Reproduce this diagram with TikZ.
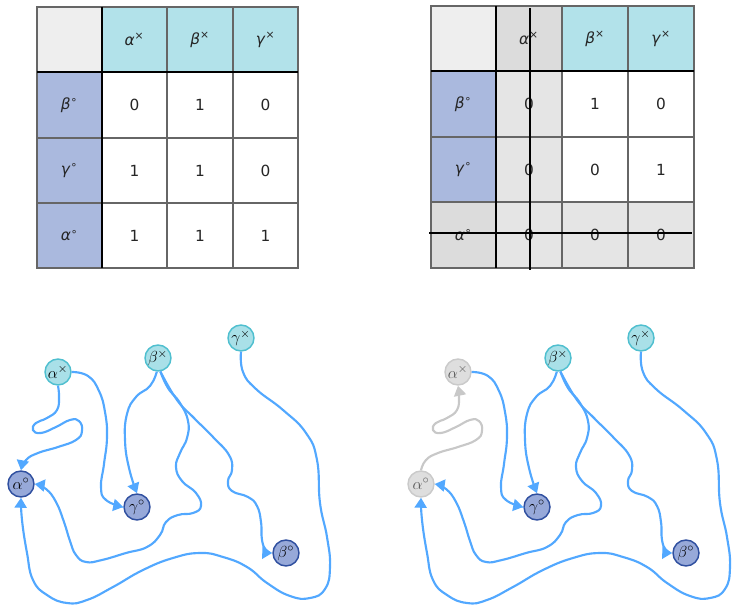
\documentclass[tikz,border=0pt]{standalone}
\usepackage{fontspec}
\setmainfont{DejaVu Sans}
\usetikzlibrary{arrows.meta}
\definecolor{hdrc}{HTML}{B2E2EA}
\definecolor{rowc}{HTML}{AAB9DE}
\definecolor{cornc}{HTML}{EEEEEE}
\definecolor{grayh}{HTML}{DCDCDC}
\definecolor{grayb}{HTML}{E5E5E5}
\definecolor{xfill}{HTML}{A9E0E8}
\definecolor{xbd}{HTML}{4FBFCF}
\definecolor{ofill}{HTML}{97A9D9}
\definecolor{obd}{HTML}{2F4F9F}
\definecolor{gfill}{HTML}{DEDEDE}
\definecolor{gbd}{HTML}{CACACA}
\definecolor{edgec}{HTML}{52A8FF}
\definecolor{gedgec}{HTML}{C8C8C8}
\tikzset{
  cellt/.style={font=\fontsize{11.5}{13}\selectfont, text=black!85, inner sep=0pt},
  gridl/.style={draw=black!60, line width=0.8pt},
  sepl/.style={draw=black, line width=1.4pt},
  strikel/.style={draw=black, line width=1.1pt},
  gnodebase/.style={circle, line width=1.1pt, minimum size=19.5pt, inner sep=0pt, font=\fontsize{13}{13}\selectfont},
  xnode/.style={gnodebase, draw=xbd, fill=xfill},
  onode/.style={gnodebase, draw=obd, fill=ofill},
  grnode/.style={gnodebase, draw=gbd, fill=gfill, text=black!65},
  edge/.style={draw=edgec, line width=1.6pt, -{Triangle[length=7.5pt,width=9pt]}},
  gedge/.style={draw=gedgec, line width=1.6pt, {Triangle[length=7.5pt,width=9pt]}-},
}
\newcommand\mygraph[6]{%
\begin{scope}[shift={(#2,0)}]
\node[#3] (#1ax) at (58,372) {$\alpha^{\times}$};
\node[xnode] (#1bx) at (158,358) {$\beta^{\times}$};
\node[xnode] (#1gx) at (241,338) {$\gamma^{\times}$};
\node[#4] (#1ao) at (21,484) {$\alpha^{\circ}$};
\node[onode] (#1go) at (137,507) {$\gamma^{\circ}$};
\node[onode] (#1bo) at (286,553) {$\beta^{\circ}$};
\draw[#5] plot[smooth, tension=0.8] coordinates {(#1ax.south) (59,397) (57,410) (47,418) (36,423) (33,430) (41,433) (56,427) (70,420) (79,421) (82,431) (76,440) (58,447) (38,453) (26,460) (#1ao.north)};
\draw[edge] plot[smooth, tension=0.8] coordinates {(#1ax.east) (88,376) (99,391) (105,412) (107,437) (104,464) (101,487) (106,500) (#1go.west)};
\draw[edge] plot[smooth, tension=0.8] coordinates {(#1bx.-95) (150,386) (136,397) (127,414) (125,440) (129,468) (#1go.north)};
\draw[edge] plot[smooth, tension=0.8] coordinates {(#1bx.-80) (168,388) (180,403) (188,421) (187,438) (180,453) (176,467) (182,481) (196,493) (201,506) (193,513) (178,515) (166,522) (160,535) (147,547) (126,553) (102,560) (86,562) (76,555) (70,541) (64,522) (56,502) (46,489) (#1ao.east)};
\draw[edge] plot[smooth, tension=0.8] coordinates {(#1bx.-80) (177,400) (194,418) (213,437) (229,455) (232,470) (228,481) (232,491) (248,497) (257,506) (261,522) (262,540) (266,550) (#1bo.west)};
\draw[edge] plot[smooth, tension=0.8] coordinates {(#1gx.south) (243,372) (256,389) (283,410) (306,433) (317,460) (320,503) (327,537) (330,567) (325,589) (310,598) (290,596) (267,583) (247,567) (223,557) (200,553) (173,558) (143,570) (113,587) (87,600) (67,603) (47,595) (33,580) (27,553) (22,520) (#1ao.south)};
\end{scope}}
\newcommand\ax{\textit{α}\textsuperscript{×}}
\newcommand\bx{\textit{β}\textsuperscript{×}}
\newcommand\gx{\textit{γ}\textsuperscript{×}}
\newcommand\ao{\textit{α}\textsuperscript{∘}}
\newcommand\bo{\textit{β}\textsuperscript{∘}}
\newcommand\go{\textit{γ}\textsuperscript{∘}}
\begin{document}
\begin{tikzpicture}[x=0.75pt,y=-0.75pt]
\useasboundingbox (0,0) rectangle (733,606);
% ---------- left table ----------
\fill[cornc] (37,7) rectangle (102,72);
\fill[hdrc] (102,7) rectangle (298,72);
\fill[rowc] (37,72) rectangle (102,268);
\fill[white] (102,72) rectangle (298,268);
\foreach \xx in {167,233} \draw[gridl] (\xx,7) -- (\xx,268);
\foreach \yy in {138,203} \draw[gridl] (37,\yy) -- (298,\yy);
\draw[gridl] (37,7) rectangle (298,268);
\draw[sepl] (102,7) -- (102,268);
\draw[sepl] (37,72) -- (298,72);
\node[cellt] (L01) at (134.5,39.5) {\ax};
\node[cellt] (L02) at (200,39.5) {\bx};
\node[cellt] (L03) at (265.5,39.5) {\gx};
\node[cellt] (L10) at (69.5,105) {\bo};
\node[cellt] (L20) at (69.5,170.5) {\go};
\node[cellt] (L30) at (69.5,235.5) {\ao};
\node[cellt] (L11) at (134.5,105) {0};
\node[cellt] (L12) at (200,105) {1};
\node[cellt] (L13) at (265.5,105) {0};
\node[cellt] (L21) at (134.5,170.5) {1};
\node[cellt] (L22) at (200,170.5) {1};
\node[cellt] (L23) at (265.5,170.5) {0};
\node[cellt] (L31) at (134.5,235.5) {1};
\node[cellt] (L32) at (200,235.5) {1};
\node[cellt] (L33) at (265.5,235.5) {1};
% ---------- right table ----------
\fill[cornc] (431,6) rectangle (496,71);
\fill[grayh] (496,6) rectangle (562,71);
\fill[hdrc] (562,6) rectangle (694,71);
\fill[rowc] (431,71) rectangle (496,202);
\fill[grayh] (431,202) rectangle (496,268);
\fill[grayb] (496,71) rectangle (562,268);
\fill[white] (562,71) rectangle (694,202);
\fill[grayb] (562,202) rectangle (694,268);
\foreach \xx in {562,628} \draw[gridl] (\xx,6) -- (\xx,268);
\foreach \yy in {137,202} \draw[gridl] (431,\yy) -- (694,\yy);
\draw[gridl] (431,6) rectangle (694,268);
\draw[sepl] (496,6) -- (496,268);
\draw[sepl] (431,71) -- (694,71);
\node[cellt] (R01) at (529,38.5) {\ax};
\node[cellt] (R02) at (595,38.5) {\bx};
\node[cellt] (R03) at (661,38.5) {\gx};
\node[cellt] (R10) at (463.5,104) {\bo};
\node[cellt] (R20) at (463.5,169.5) {\go};
\node[cellt] (R30) at (463.5,235) {\ao};
\node[cellt] (R11) at (529,104) {0};
\node[cellt] (R12) at (595,104) {1};
\node[cellt] (R13) at (661,104) {0};
\node[cellt] (R21) at (529,169.5) {0};
\node[cellt] (R22) at (595,169.5) {0};
\node[cellt] (R23) at (661,169.5) {1};
\node[cellt] (R31) at (529,235) {0};
\node[cellt] (R32) at (595,235) {0};
\node[cellt] (R33) at (661,235) {0};
\draw[strikel] (530,8) -- (530,270);
\draw[strikel] (429,233) -- (692,233);
% ---------- graphs ----------
\mygraph{L}{0}{xnode}{onode}{edge}{}
\mygraph{R}{400}{grnode}{grnode}{gedge}{}
\end{tikzpicture}
\end{document}
